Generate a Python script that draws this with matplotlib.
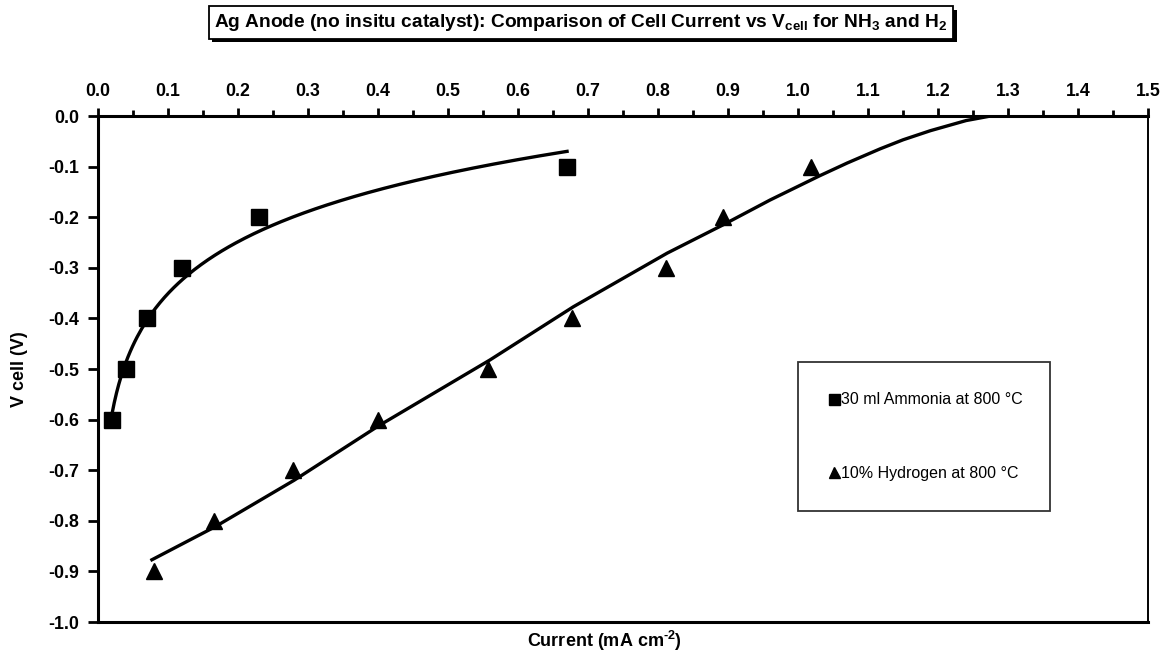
import numpy as np
import matplotlib

matplotlib.use("Agg")
import matplotlib.pyplot as plt
import matplotlib.patheffects as pe
from matplotlib.ticker import MultipleLocator, FormatStrFormatter

plt.rcParams["font.family"] = ["Liberation Sans", "DejaVu Sans"]
plt.rcParams["axes.unicode_minus"] = False
plt.rcParams["mathtext.fontset"] = "custom"
plt.rcParams["mathtext.rm"] = "Liberation Sans:bold"
plt.rcParams["mathtext.it"] = "Liberation Sans:bold"
plt.rcParams["mathtext.bf"] = "Liberation Sans:bold"
plt.rcParams["mathtext.default"] = "rm"

# measured points (current in mA cm^-2, cell voltage in V)
nh3_current = [0.02, 0.04, 0.07, 0.12, 0.23, 0.67]
nh3_vcell = [-0.6, -0.5, -0.4, -0.3, -0.2, -0.1]
h2_current = [0.08, 0.166, 0.279, 0.40, 0.557, 0.677, 0.811, 0.893, 1.019]
h2_vcell = [-0.9, -0.8, -0.7, -0.6, -0.5, -0.4, -0.3, -0.2, -0.1]

# H2 trend line (runs on to the V = 0 axis)
h2_trend_current = [0.077, 0.167, 0.28, 0.40, 0.56, 0.679, 0.813, 0.893, 0.96,
                    1.031, 1.07, 1.117, 1.15, 1.189, 1.24, 1.275]
h2_trend_vcell = [-0.877, -0.812, -0.72, -0.613, -0.482, -0.377, -0.271, -0.215, -0.166,
                  -0.118, -0.093, -0.065, -0.047, -0.029, -0.009, 0.0]

nh3_label = "30 ml Ammonia at 800 \u00b0C"
h2_label = "10% Hydrogen at 800 \u00b0C"

fig = plt.figure(figsize=(11.68, 6.58), dpi=100)
ax = fig.add_axes([0.0839, 0.0547, 0.8991, 0.769])

# logarithmic trend line for the ammonia run
nh3_fit = np.polyfit(np.log(nh3_current), nh3_vcell, 1)
xs = np.linspace(min(nh3_current), max(nh3_current), 200)
ax.plot(xs, np.polyval(nh3_fit, np.log(xs)), color="black", lw=2.4)

ax.plot(h2_trend_current, h2_trend_vcell, color="black", lw=2.4, solid_joinstyle="round")

ax.plot(nh3_current, nh3_vcell, ls="none", marker="s", ms=11, color="black", label=nh3_label)
ax.plot(h2_current, h2_vcell, ls="none", marker="^", ms=11, color="black", label=h2_label)

ax.set_xlim(0, 1.5)
ax.set_ylim(-1.0, 0.0)
ax.xaxis.tick_top()
ax.xaxis.set_major_locator(MultipleLocator(0.1))
ax.xaxis.set_minor_locator(MultipleLocator(0.05))
ax.yaxis.set_major_locator(MultipleLocator(0.1))
ax.xaxis.set_major_formatter(FormatStrFormatter("%.1f"))
ax.yaxis.set_major_formatter(FormatStrFormatter("%.1f"))
ax.tick_params(axis="x", which="major", direction="out", length=6, width=2, pad=5.7)
ax.tick_params(axis="x", which="minor", direction="out", length=4, width=2)
ax.tick_params(axis="y", which="major", direction="out", length=7, width=2, pad=6.5)
for lab in ax.get_xticklabels() + ax.get_yticklabels():
    lab.set_fontweight("bold")
    lab.set_fontsize(12.8)

for side in ["left", "top", "bottom"]:
    ax.spines[side].set_linewidth(2.2)
ax.spines["right"].set_linewidth(1.4)

ax.set_xlabel(r"Current (mA cm$^{\text{-2}}$)", fontsize=13, fontweight="bold")
ax.xaxis.set_label_position("bottom")
ax.xaxis.set_label_coords(0.482, -0.014)
ax.set_ylabel("V cell (V)", fontsize=13, fontweight="bold")
ax.yaxis.set_label_coords(-0.0743, 0.5)
ax.yaxis.label.set_va("center")

leg = ax.legend(
    loc="upper left",
    bbox_to_anchor=(0.667, 0.213, 0.24, 0.301),
    mode="expand",
    borderaxespad=0,
    fontsize=11.5,
    frameon=True,
    fancybox=False,
    edgecolor="black",
    markerscale=0.72,
    handlelength=0.6,
    handletextpad=0.15,
    borderpad=1.9,
    labelspacing=3.65,
)
leg.get_frame().set_linewidth(1.3)

title = fig.text(
    0.4974, 0.966,
    "Ag Anode (no insitu catalyst): Comparison of Cell Current vs V$_{cell}$ for NH$_3$ and H$_2$",
    ha="center", va="center", fontsize=13.8, fontweight="bold",
    bbox=dict(boxstyle="square,pad=0.3", fc="white", ec="black", lw=1.3),
)
title.get_bbox_patch().set_path_effects(
    [pe.SimplePatchShadow(offset=(2.5, -2.5), shadow_rgbFace="black", alpha=1.0), pe.Normal()]
)

fig.savefig("out.png", dpi=100)
